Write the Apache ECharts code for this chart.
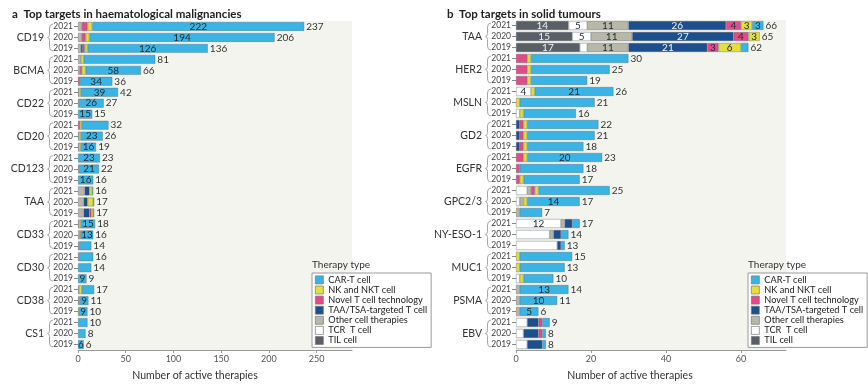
<!DOCTYPE html>
<html><head><meta charset="utf-8">
<script src="https://cdn.jsdelivr.net/npm/echarts@6/dist/echarts.min.js"></script>
<style>html,body{margin:0;padding:0;background:#fff}#c{width:868px;height:386px}</style>
</head><body><div id="c"></div>
<script>
// ---------- data ----------
const years = ['2021', '2020', '2019'];
const leftTargets = ['CD19', 'BCMA', 'CD22', 'CD20', 'CD123', 'TAA', 'CD33', 'CD30', 'CD38', 'CS1'];
const rightTargets = ['TAA', 'HER2', 'MSLN', 'GD2', 'EGFR', 'GPC2/3', 'NY-ESO-1', 'MUC1', 'PSMA', 'EBV'];

// legend order (top to bottom)
const legendNames = ['CAR-T cell', 'NK and NKT cell', 'Novel T cell technology', 'TAA/TSA-targeted T cell', 'Other cell therapies', 'TCR  T cell', 'TIL cell'];

// left panel (rows: each target x 2021, 2020, 2019)
const leftTIL   = [0,0,0, 0,0,0, 0,0,0, 0,0,0, 0,0,0, 0,0,0, 0,0,0, 0,0,0, 0,0,0, 0,0,0];
const leftTCR   = [0,0,0, 0,0,0, 0,0,0, 0,0,0, 0,0,0, 0,0,0, 0,0,0, 0,0,0, 0,0,0, 0,0,0];
const leftOther = [4,4,3, 3,2,0, 1,1,0, 0,1,1, 0,1,0, 7,6,6, 1,2,1, 1,0,0, 1,1,0, 0,0,0];
const leftTAA   = [0,0,2, 0,0,0, 0,0,0, 0,0,0, 0,0,0, 5,4,6, 0,0,0, 0,0,0, 0,0,0, 0,0,0];
const leftNovel = [6,4,2, 0,2,2, 0,0,0, 2,0,0, 0,0,0, 0,0,2, 0,0,0, 0,0,0, 0,0,0, 0,0,0];
const leftNK    = [5,4,3, 3,4,0, 2,0,0, 2,2,2, 0,0,0, 3,6,2, 2,1,1, 0,0,0, 3,1,1, 0,0,0];
const leftCAR   = [222,194,126, 75,58,34, 39,26,15, 28,23,16, 23,21,16, 1,1,1, 15,13,12, 15,14,9, 13,9,9, 10,8,6];
const leftCARLabelRows = [0,1,2, 4,5, 6,7,8, 10,11, 12,13,14, 18,19, 23, 25,26, 29];

// right panel
const rightTIL   = [14,15,17, 0,0,0, 0,0,0, 0,0,0, 0,0,0, 0,0,0, 0,0,0, 0,0,0, 0,0,0, 0,0,0];
const rightTCR   = [5,5,2, 0,0,0, 4,0,1, 0,0,0, 0,0,0, 3,1,0, 12,9,11, 0,0,1, 0,0,0, 3,2,3];
const rightOther = [11,11,11, 0,0,0, 0,0,0, 0,0,0, 0,0,0, 1,1,1, 1,1,0, 0,0,0, 1,1,1, 0,0,0];
const rightTAA   = [26,27,21, 0,0,0, 0,0,0, 1,1,1, 0,0,0, 0,0,0, 2,2,1, 0,0,0, 0,0,0, 3,4,4];
const rightNovel = [4,4,3, 3,3,3, 0,0,0, 1,1,1, 2,1,1, 1,0,0, 0,0,0, 0,0,0, 0,0,0, 1,1,0];
const rightNK    = [3,3,6, 1,1,1, 1,1,1, 1,1,1, 1,0,1, 1,1,0, 0,0,0, 1,1,1, 0,0,0, 0,0,0];
const rightCAR   = [3,0,2, 26,21,15, 21,20,14, 19,18,15, 20,17,15, 19,14,6, 2,2,1, 14,12,8, 13,10,5, 2,1,1];
const rightTILLabelRows   = [0,1,2];
const rightTCRLabelRows   = [0,1,6,18];
const rightOtherLabelRows = [0,1,2];
const rightTAALabelRows   = [0,1,2];
const rightNovelLabelRows = [0,1,2];
const rightNKLabelRows    = [0,1,2];
const rightCARLabelRows   = [0,12,16,6,24,25,26];

// x axis ticks
const leftTicks = [0, 50, 100, 150, 200, 250];
const rightTicks = [0, 20, 40, 60];

// ---------- styling ----------
const colors = {
  'CAR-T cell': '#3ab4e4',
  'NK and NKT cell': '#e4df3c',
  'Novel T cell technology': '#e14b87',
  'TAA/TSA-targeted T cell': '#1d4e8e',
  'Other cell therapies': '#b8b7a8',
  'TCR  T cell': '#ffffff',
  'TIL cell': '#5a5f67'
};
const labelColors = {
  'TIL cell': '#f2f2f2', 'TAA/TSA-targeted T cell': '#f2f2f2'
};
const FONT = 'Lato';

function rowsFor(targets) {
  const r = [];
  targets.forEach(t => years.forEach(y => r.push(t + '|' + y)));
  return r;
}

function makePanel(gi, targets, stacks) {
  const series = [];
  const n = targets.length * years.length;
  const totals = new Array(n).fill(0);
  stacks.forEach(s => {
    s.values.forEach((v, i) => totals[i] += v);
    series.push({
      name: s.name, type: 'bar', stack: 'p' + gi,
      xAxisIndex: gi, yAxisIndex: gi * 2,
      barCategoryGap: '18%', barGap: '-100%',
      itemStyle: { color: colors[s.name], borderColor: 'rgba(70,85,95,0.55)', borderWidth: 0.6 },
      label: { show: false, position: 'inside', fontSize: 10, fontFamily: FONT,
               color: labelColors[s.name] || '#1f2a30' },
      data: s.values.map((v, i) => ({
        value: v === 0 ? '-' : v,
        label: { show: s.labels.includes(i) }
      }))
    });
  });
  series.push({
    name: 'Total' + gi, type: 'bar', xAxisIndex: gi, yAxisIndex: gi * 2,
    barCategoryGap: '18%', barGap: '-100%', silent: true, z: 1,
    itemStyle: { color: 'rgba(0,0,0,0)' },
    label: { show: true, position: 'right', distance: 2, fontSize: 10, fontFamily: FONT, color: '#333' },
    data: totals
  });
  series.push({
    name: 'Brace' + gi, type: 'custom', xAxisIndex: gi, yAxisIndex: gi * 2 + 1,
    silent: true, clip: false,
    data: targets.map((t, i) => [0, i]),
    renderItem: function (params, api) {
      const idx = api.value(1);
      const p = api.coord([0, idx]);
      const h = api.size([0, 1])[1];
      const top = p[1] - h / 2 + 3, bot = p[1] + h / 2 - 3, mid = p[1];
      const x = params.coordSys.x - 28.5;
      const d = `M ${x + 3.5} ${top} Q ${x} ${top} ${x} ${top + 4} L ${x} ${mid - 3} Q ${x} ${mid} ${x - 2} ${mid} Q ${x} ${mid} ${x} ${mid + 3} L ${x} ${bot - 4} Q ${x} ${bot} ${x + 3.5} ${bot}`;
      return { type: 'path', shape: { pathData: d }, style: { fill: 'none', stroke: '#a8a8a8', lineWidth: 1 } };
    }
  });
  return series;
}

const leftSeries = makePanel(0, leftTargets, [
  { name: 'TIL cell', values: leftTIL, labels: [] },
  { name: 'TCR  T cell', values: leftTCR, labels: [] },
  { name: 'Other cell therapies', values: leftOther, labels: [] },
  { name: 'TAA/TSA-targeted T cell', values: leftTAA, labels: [] },
  { name: 'Novel T cell technology', values: leftNovel, labels: [] },
  { name: 'NK and NKT cell', values: leftNK, labels: [] },
  { name: 'CAR-T cell', values: leftCAR, labels: leftCARLabelRows }
]);
const rightSeries = makePanel(1, rightTargets, [
  { name: 'TIL cell', values: rightTIL, labels: rightTILLabelRows },
  { name: 'TCR  T cell', values: rightTCR, labels: rightTCRLabelRows },
  { name: 'Other cell therapies', values: rightOther, labels: rightOtherLabelRows },
  { name: 'TAA/TSA-targeted T cell', values: rightTAA, labels: rightTAALabelRows },
  { name: 'Novel T cell technology', values: rightNovel, labels: rightNovelLabelRows },
  { name: 'NK and NKT cell', values: rightNK, labels: rightNKLabelRows },
  { name: 'CAR-T cell', values: rightCAR, labels: rightCARLabelRows }
]);

function xAxis(gi, max, ticks, pad) {
  return {
    type: 'value', gridIndex: gi, min: 0, max: max,
    axisLine: { show: true, lineStyle: { color: '#9a9a9a', width: 1 } },
    axisTick: { show: true, length: 3, lineStyle: { color: '#9a9a9a' }, customValues: ticks },
    axisLabel: { fontSize: 9, color: '#555', fontFamily: FONT, margin: 5, customValues: ticks },
    splitLine: { show: false },
    name: 'Number of active therapies', nameLocation: 'middle', nameGap: 20,
    nameTextStyle: { fontSize: 10.5, color: '#333', fontFamily: FONT, padding: pad }
  };
}
function yAxes(gi, targets) {
  return [{
    type: 'category', gridIndex: gi, inverse: true, data: rowsFor(targets),
    axisLine: { show: false },
    axisTick: { show: true, alignWithLabel: true, interval: 0, length: 4, lineStyle: { color: '#8a8a8a' } },
    axisLabel: { interval: 0, fontSize: 8.5, color: '#444', fontFamily: FONT, margin: 5,
                 formatter: v => v.split('|')[1] }
  }, {
    type: 'category', gridIndex: gi, inverse: true, data: targets, position: 'left', offset: 30,
    axisLine: { show: false }, axisTick: { show: false },
    axisLabel: { interval: 0, fontSize: 10.5, color: '#333', fontFamily: FONT, margin: 4 }
  }];
}

const legendBase = {
  orient: 'vertical', data: legendNames, icon: 'rect', itemWidth: 8, itemHeight: 8, itemGap: 0.3,
  textStyle: { fontSize: 9.2, lineHeight: 9.8, color: '#222', fontFamily: FONT },
  padding: [2, 4, 2, 3], borderColor: '#9a9a9a', borderWidth: 1, backgroundColor: '#fff',
  itemStyle: { borderColor: '#777', borderWidth: 0.7 }, selectedMode: false
};

const option = {
  animation: false,
  textStyle: { fontFamily: FONT },
  title: [
    { text: 'a  Top targets in haematological malignancies', left: 7, top: 3,
      textStyle: { fontSize: 11.5, fontWeight: 'bold', color: '#222', fontFamily: FONT } },
    { text: 'b  Top targets in solid tumours', left: 442, top: 3,
      textStyle: { fontSize: 11.5, fontWeight: 'bold', color: '#222', fontFamily: FONT } },
    { text: 'Therapy type', left: 312, top: 260,
      textStyle: { fontSize: 10, fontWeight: 'normal', color: '#333', fontFamily: FONT }, padding: 0 },
    { text: 'Therapy type', left: 748, top: 260,
      textStyle: { fontSize: 10, fontWeight: 'normal', color: '#333', fontFamily: FONT }, padding: 0 }
  ],
  legend: [
    Object.assign({}, legendBase, { left: 312, top: 273 }),
    Object.assign({}, legendBase, { left: 748, top: 273 })
  ],
  grid: [
    { left: 78, right: 516, top: 21, bottom: 33, show: true, backgroundColor: '#f4f4ef', borderWidth: 0 },
    { left: 516, right: 82, top: 20, bottom: 33, show: true, backgroundColor: '#f4f4ef', borderWidth: 0 }
  ],
  xAxis: [xAxis(0, 287, leftTicks, [0, 40, 0, 0]), xAxis(1, 72, rightTicks, [0, 42, 0, 0])],
  yAxis: [].concat(yAxes(0, leftTargets), yAxes(1, rightTargets)),
  series: [].concat(leftSeries, rightSeries)
};

const chart = echarts.init(document.getElementById('c'), null, { renderer: 'canvas' });
chart.setOption(option);
</script>
</body></html>
